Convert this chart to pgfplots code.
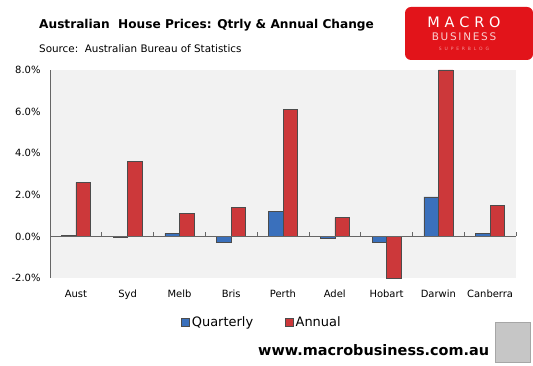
\documentclass[border=0pt]{standalone}
\usepackage{pgfplots}
\pgfplotsset{compat=1.18}
\usepackage{fontspec}
\setmainfont{DejaVu Sans}
\definecolor{qblue}{RGB}{58,112,188}
\definecolor{ared}{RGB}{204,56,58}
\definecolor{plotbg}{RGB}{242,242,242}
\definecolor{logored}{RGB}{226,20,26}
\begin{document}
\begin{tikzpicture}
\useasboundingbox (0bp,0bp) rectangle (533bp,366bp);
\begin{axis}[
  at={(50bp,88bp)}, anchor=south west,
  scale only axis, width=466bp, height=208bp,
  xmin=-0.5, xmax=8.5, ymin=-2, ymax=8,
  axis lines*=left,
  x axis line style={draw=none},
  y axis line style={draw=gray!80!black, line width=0.6pt},
  axis background/.style={fill=plotbg},
  ybar=0pt, bar width=14.5bp,
  xtick=data,
  xticklabels={Aust,Syd,Melb,Bris,Perth,Adel,Hobart,Darwin,Canberra},
  xticklabel style={font=\fontsize{10}{12}\selectfont, yshift=-4bp},
  major x tick style={draw=none},
  ytick={-2,0,2,4,6,8},
  major y tick style={draw=none},
  /pgf/number format/assume math mode=true,
  yticklabel={\pgfmathprintnumber[fixed,fixed zerofill,precision=1]{\tick}\%},
  yticklabel style={font=\fontsize{10}{12}\selectfont, xshift=-6bp},
  legend columns=2,
  legend style={at={(0.455,-0.212)}, anchor=center, draw=none, fill=none,
    font=\fontsize{13}{15}\selectfont, /tikz/every even column/.append style={column sep=30bp}},
  legend image code/.code={\draw[#1, draw=gray!60!black] (0bp,-4bp) rectangle (8bp,4bp);},
  clip=false,
]
\addplot[fill=qblue, draw=gray!60!black, line width=0.5pt] coordinates {
 (0,0.05) (1,-0.02) (2,0.15) (3,-0.3) (4,1.2) (5,-0.1) (6,-0.3) (7,1.9) (8,0.15)};
\addplot[fill=ared, draw=gray!60!black, line width=0.5pt] coordinates {
 (0,2.6) (1,3.6) (2,1.1) (3,1.4) (4,6.1) (5,0.9) (6,-2.0) (7,8.0) (8,1.5)};
\legend{Quarterly,Annual}
\draw[gray!80!black, line width=0.6pt] (axis cs:-0.5,0) -- (axis cs:8.5,0);
\pgfplotsinvokeforeach{0.5,1.5,2.5,3.5,4.5,5.5,6.5,7.5,8.5}{
  \draw[gray!80!black, line width=0.6pt] (axis cs:#1,0) -- (axis cs:#1,0.2);
}
\end{axis}
% title and source
\node[anchor=west, inner sep=0pt, font=\bfseries\fontsize{12.2}{14}\selectfont] at (39bp,341bp) {Australian\ \ House Prices: Qtrly \& Annual Change};
\node[anchor=west, inner sep=0pt, font=\fontsize{10.4}{12}\selectfont] at (39bp,317bp) {Source:\ \ Australian Bureau of Statistics};
% logo
\fill[logored, rounded corners=6bp] (405bp,306bp) -- (405bp,359bp) -- (533bp,359bp) -- (533bp,306bp) -- cycle;
\node[text=white, font=\fontsize{14.5}{16}\selectfont, inner sep=0pt] at (464bp,344bp) {M\,\,A\,\,C\,\,R\,\,O};
\node[text=white!80!logored, font=\fontsize{10.5}{12}\selectfont, inner sep=0pt] at (464bp,329bp) {B\,U\,S\,I\,N\,E\,S\,S};
\node[text=white!55!logored, font=\fontsize{4.5}{6}\selectfont, inner sep=0pt] at (464bp,317bp) {S\ \ U\ \ P\ \ E\ \ R\ \ B\ \ L\ \ O\ \ G};
% website
\node[anchor=west, inner sep=0pt, font=\bfseries\fontsize{14.5}{17}\selectfont] at (258bp,16bp) {www.macrobusiness.com.au};
\fill[gray!45, draw=gray!70] (495bp,4bp) rectangle (530bp,44bp);
\end{tikzpicture}
\end{document}
